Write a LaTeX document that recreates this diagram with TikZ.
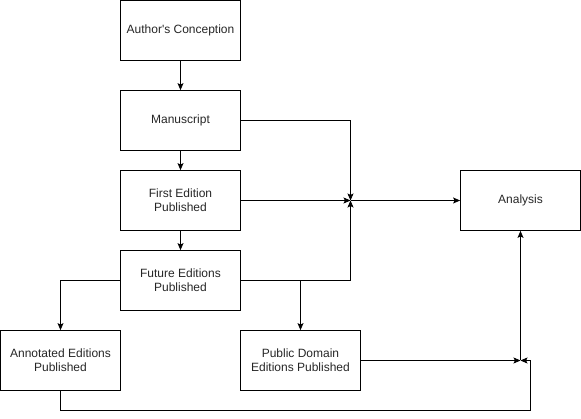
\documentclass[tikz,border=0pt]{standalone}
\usepackage{fontspec}
\setmainfont{Liberation Sans}[Ligatures=TeXOff]
\usetikzlibrary{positioning, arrows.meta}

\begin{document}
\begin{tikzpicture}[
  x=1pt, y=-1pt,
  font=\fontsize{12}{14}\selectfont,
  stage/.style={draw, thick, align=center, minimum width=120pt,
    minimum height=60pt, inner sep=2pt, text=black!85},
  arr/.style={thick, -{Stealth[length=7pt, width=6pt, inset=1.5pt]}},
]
  \useasboundingbox (0,0) rectangle (581,419);

  \node[stage] (auth) at (180.5, 30.5)  {Author's Conception};
  \node[stage] (man)  at (180.5, 120.5) {Manuscript};
  \node[stage] (first) at (180.5, 200.5) {First Edition\\Published};
  \node[stage] (fut)  at (180.5, 280.5) {Future Editions\\Published};
  \node[stage] (ann)  at (60.5, 360.5)  {Annotated Editions\\Published};
  \node[stage] (pub)  at (300.5, 360.5) {Public Domain\\Editions Published};
  \node[stage] (ana)  at (520.5, 200.5) {Analysis};

  \coordinate (join)  at (350.5, 200.5);
  \coordinate (split) at (300.5, 280.5);
  \coordinate (merge) at (520.5, 360.5);
  \coordinate (loop)  at (530.5, 410.5);

  % main line of descent
  \draw[arr] (auth) -- (man);
  \draw[arr] (man) -- (first);
  \draw[arr] (first) -- (fut);

  % into analysis from the left
  \draw[arr] (man.east) -| (join);
  \draw[arr] (first.east) -- (join);
  \draw[arr] (fut.east) -| (join);
  \draw[arr] (join) -- (ana.west);

  % later editions
  \draw[arr] (fut.west) -| (ann.north);
  \draw[arr] (split) -- (pub.north);
  \draw[arr] (pub.east) -- (merge);
  \draw[arr] (ann.south) |- (loop) |- (merge);
  \draw[arr] (merge) -- (ana.south);
\end{tikzpicture}
\end{document}
